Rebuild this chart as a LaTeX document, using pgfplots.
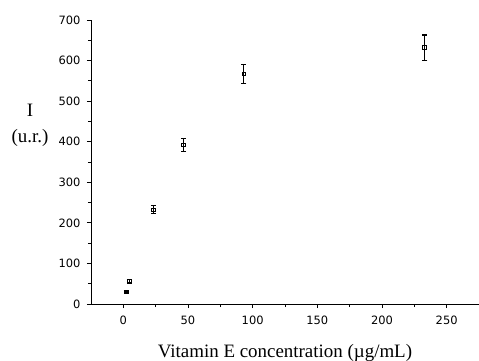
\documentclass[border=0pt]{standalone}
\usepackage{pgfplots}
\pgfplotsset{compat=1.18}
\usepackage{fontspec}
\setmainfont{Liberation Serif}
\newfontfamily\ticksfont{DejaVu Sans}
\begin{document}
\begin{tikzpicture}[x=1bp,y=1bp]
\path[use as bounding box] (-91bp,-57bp) rectangle (388bp,304bp);
\begin{axis}[
  scale only axis,
  width=388bp, height=284bp,
  xmin=-25, xmax=275, ymin=0, ymax=700,
  axis lines*=left,
  axis line style={line width=1pt},
  tick align=outside,
  major tick length=4bp,
  minor tick length=3bp,
  every tick/.style={black, line width=1pt},
  xtick={0,50,...,250}, minor xtick={25,75,...,275},
  ytick={0,100,...,700}, minor ytick={50,150,...,650},
  /pgf/number format/assume math mode=true,
  tick label style={font=\ticksfont\fontsize{11.5}{13}\selectfont},
  xticklabel style={yshift=-4bp},
  yticklabel style={xshift=-3bp},
  xlabel={Vitamin E concentration (\textmu g/mL)},
  xlabel style={font=\fontsize{19}{20}\selectfont, at={(axis description cs:0.5,0)}, anchor=base, yshift=-53bp},
  clip=false,
]
\addplot[only marks, mark=square*, mark size=1.8pt, black,
  error bars/.cd, y dir=both, y explicit, error bar style={line width=1.1pt}, error mark options={rotate=90, mark size=2.6pt, line width=1.1pt}]
  coordinates {(2.33,30) +- (0,3)};
\addplot[only marks, mark=square, mark size=1.8pt, black, mark options={line width=1.1pt},
  error bars/.cd, y dir=both, y explicit, error bar style={line width=1.1pt}, error mark options={rotate=90, mark size=2.6pt, line width=1.1pt}]
  coordinates {
  (4.66,56) +- (0,4)
  (23.3,232) +- (0,10)
  (46.6,392) +- (0,16)
  (93.2,567) +- (0,24)
  (233,632) +- (0,31)
  };
\node[font=\fontsize{19}{20}\selectfont, align=center] at (rel axis cs:-0.157,0.63) {I\\[6bp](u.r.)};
\end{axis}
\end{tikzpicture}
\end{document}
